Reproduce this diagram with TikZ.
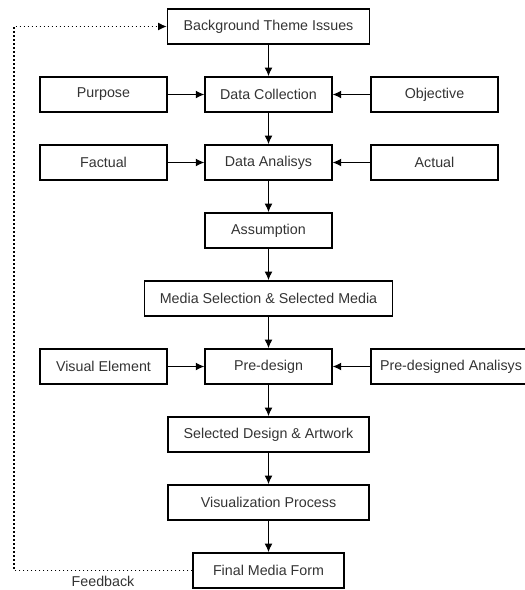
\documentclass[tikz,border=0pt]{standalone}
\usepackage{fontspec}
\setmainfont{Liberation Sans}
\usetikzlibrary{positioning,arrows.meta}

\begin{document}
\begin{tikzpicture}[x=0.75pt,y=-0.75pt,
   box/.style={draw,line width=1.1pt,minimum height=26.25pt,minimum width=95pt,inner sep=2pt,
      text=black!80,font=\fontsize{10.7}{12}\selectfont},
   flow/.style={line width=1.1pt,-{Latex[length=6.5pt,width=6pt]}},
   feedback/.style={line width=1pt,dotted,-{Latex[length=6.5pt,width=6pt]}}]
   \useasboundingbox (0,0) rectangle (525,590);
   % main column
   \node[box,minimum width=151.5pt] (issues) at (268.5,26.5) {Background Theme Issues};
   \node[box] (collect) at (268.5,94.5) {Data Collection};
   \node[box] (analysis) at (268.5,162.5) {Data Analisys};
   \node[box] (assume) at (268.5,230.5) {Assumption};
   \node[box,minimum width=186pt] (media) at (268.5,298.5) {Media Selection \& Selected Media};
   \node[box] (predesign) at (268.5,366.5) {Pre-design};
   \node[box,minimum width=151pt] (artwork) at (268.5,434.5) {Selected Design \& Artwork};
   \node[box,minimum width=151pt] (visual) at (268.5,502.5) {Visualization Process};
   \node[box,minimum width=113.25pt] (final) at (268.5,570.5) {Final Media Form};
   % side inputs
   \node[box] (purpose) at (103.5,94.5) {Purpose};
   \node[box] (objective) at (434.5,94.5) {Objective};
   \node[box] (factual) at (103.5,162.5) {Factual};
   \node[box] (actual) at (434.5,162.5) {Actual};
   \node[box] (element) at (103.5,366.5) {Visual Element};
   \node[box,minimum width=120pt] (preanalysis) at (451,366.5) {Pre-designed Analisys};

   \draw[flow] (issues) -- (collect);
   \draw[flow] (collect) -- (analysis);
   \draw[flow] (analysis) -- (assume);
   \draw[flow] (assume) -- (media);
   \draw[flow] (media) -- (predesign);
   \draw[flow] (predesign) -- (artwork);
   \draw[flow] (artwork) -- (visual);
   \draw[flow] (visual) -- (final);
   \draw[flow] (purpose) -- (collect);
   \draw[flow] (objective) -- (collect);
   \draw[flow] (factual) -- (analysis);
   \draw[flow] (actual) -- (analysis);
   \draw[flow] (element) -- (predesign);
   \draw[flow] (preanalysis) -- (predesign);

   % feedback loop
   \coordinate (fbcorner) at (14,26.5);
   \draw[feedback] (final.west) -| (fbcorner) -- (issues.west);
   \node[text=black!80,font=\fontsize{10.7}{12}\selectfont] (fblabel) at (103,581) {Feedback};
\end{tikzpicture}
\end{document}
